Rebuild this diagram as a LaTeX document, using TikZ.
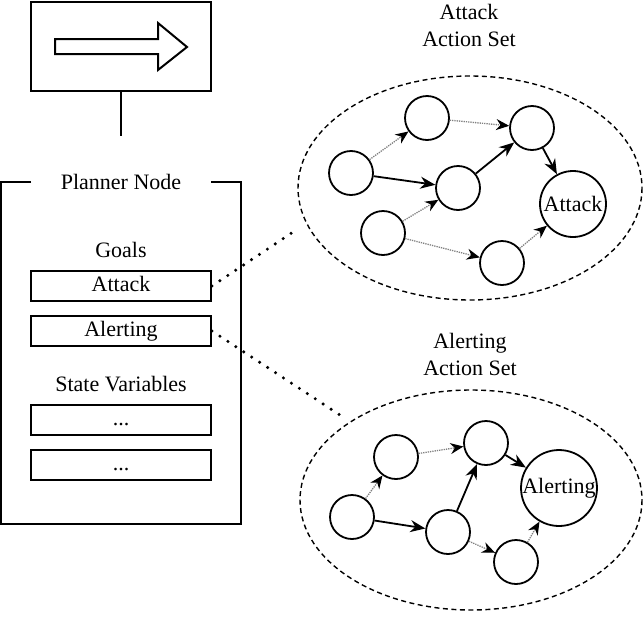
\documentclass[tikz,border=0pt]{standalone}
\usepackage{fontspec}
\setmainfont{Liberation Serif}
\usetikzlibrary{arrows.meta}

\begin{document}
\begin{tikzpicture}[x=1pt, y=-1pt,
  every node/.style={font=\fontsize{22}{27}\selectfont},
  field/.style={draw, line width=2pt, minimum width=180pt, minimum height=30pt,
    inner sep=0pt, text height=15pt, text depth=5pt},
  act/.style={circle, draw, line width=1.8pt, minimum size=44pt, inner sep=0pt},
  must/.style={line width=1.8pt, -{Stealth[length=15pt, width=12pt]}},
  may/.style={gray, densely dotted, line width=1.3pt, -{Stealth[length=13pt, width=11pt, black]}},
  link/.style={line width=3.4pt, line cap=round, dash pattern=on 0pt off 9.5pt},
  actionset/.style={line width=1.4pt, dash pattern=on 5pt off 3.5pt}]

  \useasboundingbox (0,0) rectangle (644,616); %% positioning

  %% executor with its arrow
  \node[draw, line width=2pt, minimum width=180pt, minimum height=89pt] (sign) at (121,46.5) {};
  \draw[line width=2pt] (55,39) -- (158,39) -- (158,23) -- (187,47) -- (158,70)
    -- (158,54) -- (55,54) -- cycle;
  \coordinate (stub) at (121,136);
  \draw[line width=2pt] (sign.south) -- (stub);

  %% planner node
  \draw[line width=2pt] (31,182) -- (1,182) -- (1,524) -- (241,524) -- (241,182) -- (211,182);
  \node (planner) at (121,182) {Planner Node};
  \node (goals) at (121,250) {Goals};
  \node[field] (attack) at (121,286) {Attack};
  \node[field] (alerting) at (121,331) {Alerting};
  \node (state) at (121,384) {State Variables};
  \node[field] (var1) at (121,420) {...};
  \node[field] (var2) at (121,465) {...};

  %% attack action set
  \node[align=center] (atktitle) at (469,25) {Attack\\Action Set};
  \draw[actionset] (470,188) ellipse [x radius=172, y radius=112];
  \node[act] (a1) at (427,118) {};
  \node[act] (a2) at (532,128) {};
  \node[act] (a3) at (351,173) {};
  \node[act] (a4) at (458,188) {};
  \node[act] (a5) at (383,233) {};
  \node[act] (a6) at (502,263) {};
  \node[act, minimum size=66pt] (atkgoal) at (573,204) {Attack};
  \draw[may] (a3) -- (a1);
  \draw[may] (a1) -- (a2);
  \draw[must] (a3) -- (a4);
  \draw[must] (a4) -- (a2);
  \draw[must] (a2) -- (atkgoal);
  \draw[may] (a5) -- (a4);
  \draw[may] (a5) -- (a6);
  \draw[may] (a6) -- (atkgoal);

  %% alerting action set
  \node[align=center] (alrtitle) at (470,354) {Alerting\\Action Set};
  \draw[actionset] (471,500) ellipse [x radius=171, y radius=110];
  \node[act] (b1) at (396,457) {};
  \node[act] (b2) at (486,443) {};
  \node[act] (b3) at (352,517) {};
  \node[act] (b4) at (448,532) {};
  \node[act] (b5) at (516,562) {};
  \node[act, minimum size=68pt] (alrgoal) at (559,488) {Alerting};
  \draw[may] (b3) -- (b1);
  \draw[may] (b1) -- (b2);
  \draw[must] (b3) -- (b4);
  \draw[must] (b4) -- (b2);
  \draw[must] (b2) -- (alrgoal);
  \draw[may] (b4) -- (b5);
  \draw[may] (b5) -- (alrgoal);

  %% goals to action sets
  \coordinate (atkend) at (293,232);
  \coordinate (alrend) at (343,417);
  \draw[link] (attack.east) -- (atkend);
  \draw[link] (alerting.east) -- (alrend);

\end{tikzpicture}
\end{document}
